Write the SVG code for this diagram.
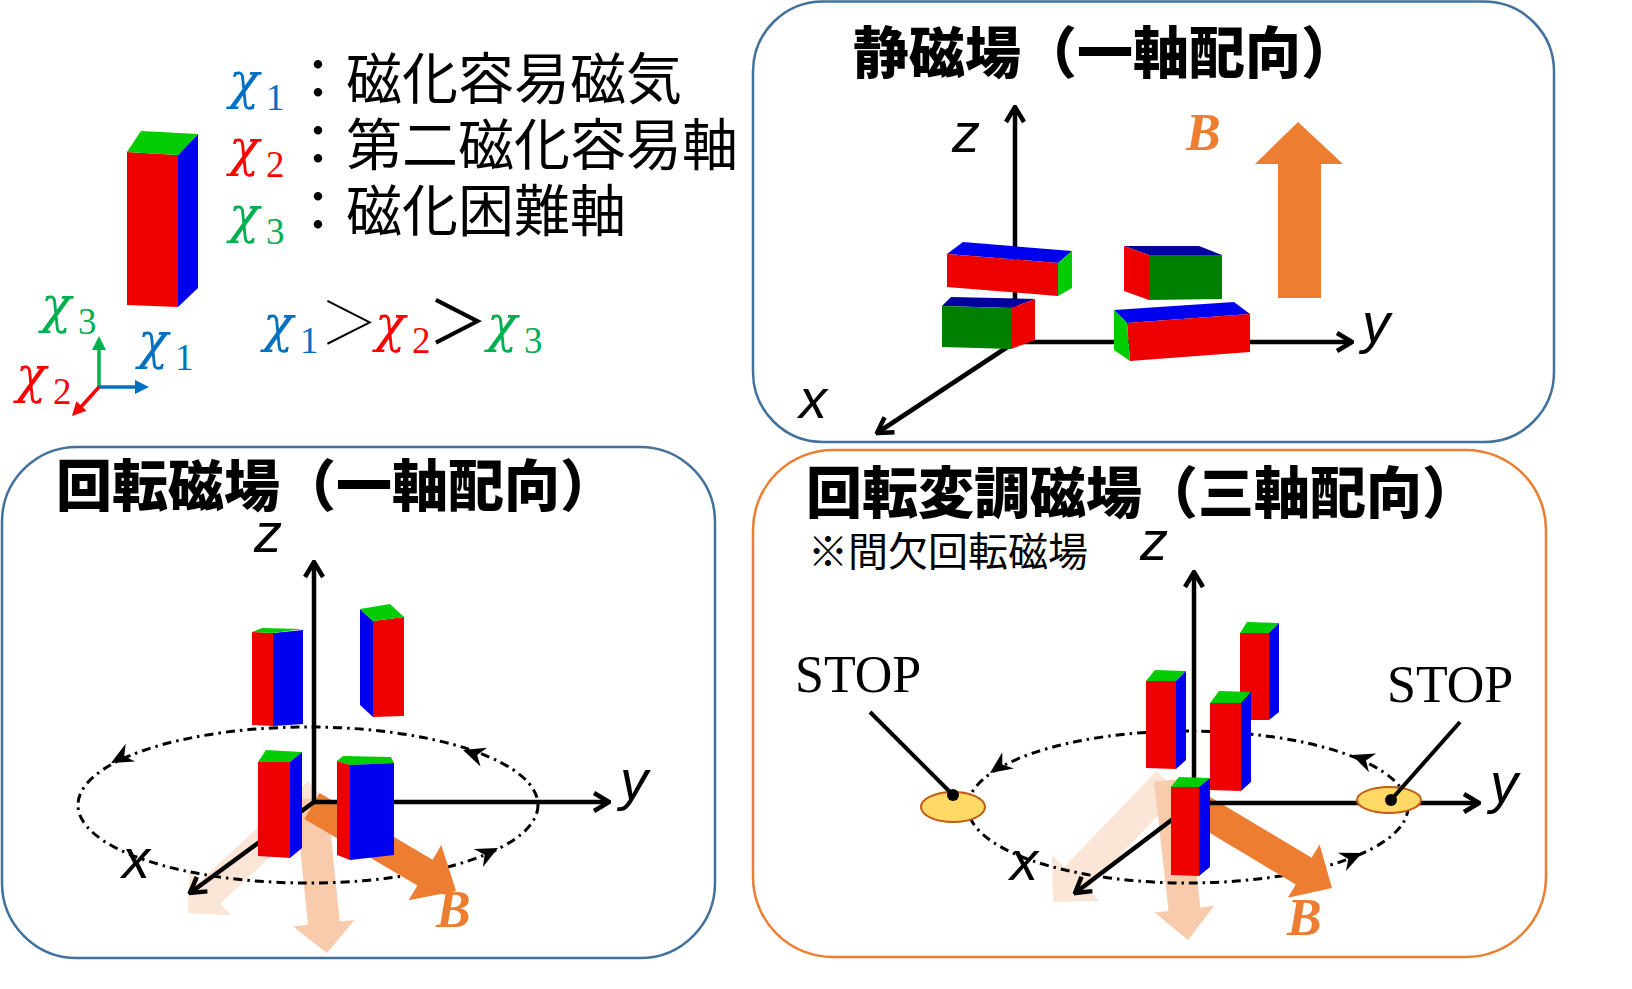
<svg xmlns="http://www.w3.org/2000/svg" width="1632" height="989" viewBox="0 0 1632 989">
<defs>
<style>
.cjk{font-family:"Noto Sans CJK JP","Noto Sans CJK SC",sans-serif;fill:#000}
.leg{font-size:56px}
.ttl{font-size:56px;font-weight:900}
.chi{font-family:"DejaVu Serif","Liberation Serif",serif;font-style:italic;font-size:50px}
.sub{font-family:"Liberation Serif","DejaVu Serif",serif;font-size:37px}
.ax{font-family:"Liberation Sans","DejaVu Sans",sans-serif;font-style:italic;font-size:56px;fill:#000}
.bl{font-family:"Liberation Serif","DejaVu Serif",serif;font-style:italic;font-weight:bold;font-size:52px;fill:#ED7D31}
.stop{font-family:"Liberation Serif","DejaVu Serif",serif;font-size:52px;fill:#000}
.axis{stroke:#000;stroke-width:4.5;fill:none;marker-end:url(#ah)}
.orbit{fill:none;stroke:#000;stroke-width:3;stroke-dasharray:9 5 2.5 5}
.panelB{fill:#fff;stroke:#41719C;stroke-width:2.5}
.panelO{fill:#fff;stroke:#ED7D31;stroke-width:2.5}
.r{fill:#EE0000}.b{fill:#0000EE}.db{fill:#00009E}.g{fill:#00CC00}.dg{fill:#008000}
.sol{fill:#ED7D31}.f1{fill:#FBE5D6}.f2{fill:#F8CBAD}
</style>
<marker id="ah" viewBox="0 0 24 24" refX="22" refY="12" markerWidth="24" markerHeight="24" markerUnits="userSpaceOnUse" orient="auto">
<path d="M7,3 L22,12 L7,21" fill="none" stroke="#000" stroke-width="4.5"/>
</marker>
<path id="stealth" d="M0,0 L-22,-10 L-15,0 L-22,10 Z" fill="#000"/>
</defs>
<rect width="1632" height="989" fill="#fff"/>

<!-- Legend -->
<g id="legend">
<g id="legend-block">
<polygon class="r" points="127,152 178,155 178,307 127,305"/>
<polygon class="b" points="178,155 198,134 198,288 178,307"/>
<polygon class="g" points="127,152 141,131 198,134 178,155"/>
</g>
<text class="chi" x="229" y="98" fill="#0070C0">&#967;</text><text class="sub" x="266" y="110" fill="#0070C0">1</text>
<text class="chi" x="229" y="165" fill="#FF0000">&#967;</text><text class="sub" x="266" y="177" fill="#FF0000">2</text>
<text class="chi" x="229" y="232" fill="#00B050">&#967;</text><text class="sub" x="266" y="244" fill="#00B050">3</text>
<text class="cjk leg" x="290" y="99">：磁化容易磁気</text>
<text class="cjk leg" x="290" y="165">：第二磁化容易軸</text>
<text class="cjk leg" x="290" y="231">：磁化困難軸</text>
<text class="chi" x="263" y="341" fill="#0070C0">&#967;</text><text class="sub" x="300" y="353" fill="#0070C0">1</text>
<text class="cjk" x="349" y="344" font-size="58" font-weight="100" text-anchor="middle">＞</text>
<text class="chi" x="375" y="341" fill="#FF0000">&#967;</text><text class="sub" x="412" y="353" fill="#FF0000">2</text>
<text class="cjk" x="458" y="344" font-size="60" text-anchor="middle">＞</text>
<text class="chi" x="487" y="341" fill="#00B050">&#967;</text><text class="sub" x="524" y="353" fill="#00B050">3</text>
<g id="legend-axes">
<line x1="99" y1="388" x2="99" y2="348" stroke="#00B050" stroke-width="3.5"/>
<polygon points="92,350 99,336 106,350" fill="#00B050"/>
<line x1="98" y1="387" x2="137" y2="387" stroke="#0070C0" stroke-width="3.5"/>
<polygon points="135,380 149,387 135,394" fill="#0070C0"/>
<line x1="99" y1="387" x2="80" y2="408" stroke="#FF0000" stroke-width="3.5"/>
<polygon points="86.6,410.8 72,416 76.4,401.2" fill="#FF0000"/>
</g>
<text class="chi" x="41" y="322" fill="#00B050">&#967;</text><text class="sub" x="78" y="334" fill="#00B050">3</text>
<text class="chi" x="138" y="358" fill="#0070C0">&#967;</text><text class="sub" x="175" y="370" fill="#0070C0">1</text>
<text class="chi" x="16" y="392" fill="#FF0000">&#967;</text><text class="sub" x="53" y="404" fill="#FF0000">2</text>
</g>

<!-- Static field panel -->
<g id="panel-static">
<rect class="panelB" x="753" y="1.5" width="801" height="440.5" rx="70" ry="70"/>
<text class="cjk ttl" x="853" y="73">静磁場（一軸配向）</text>
<polygon class="sol" points="1278,298 1278,164 1255,164 1298,122 1343,164 1321,164 1321,298"/>
<text class="bl" x="1186" y="150">B</text>
<g id="axes-static">
<line class="axis" x1="1015" y1="342" x2="1015" y2="107"/>
<line class="axis" x1="1013" y1="342" x2="1352" y2="342"/>
<line class="axis" x1="1015" y1="342" x2="877" y2="433"/>
</g>
<text class="ax" x="952" y="152">z</text>
<text class="ax" x="1362" y="342">y</text>
<text class="ax" x="799" y="418">x</text>
<g id="s-boxA">
<polygon class="b" points="947,254 963,242 1072,251 1058,263"/>
<polygon class="r" points="947,254 1058,263 1058,296 947,287"/>
<polygon class="g" points="1058,263 1072,251 1072,288 1058,296"/>
</g>
<g id="s-boxB">
<polygon class="db" points="942,306 951,297 1035,299 1011,308"/>
<polygon class="dg" points="942,306 1011,308 1011,349 942,347"/>
<polygon class="r" points="1011,308 1035,299 1035,340 1011,349"/>
</g>
<g id="s-boxC">
<polygon class="db" points="1124,246 1199,246 1222,255 1149,255"/>
<polygon class="r" points="1124,246 1149,255 1149,300 1124,291"/>
<polygon class="dg" points="1149,255 1222,255 1222,299 1149,300"/>
</g>
<g id="s-boxD">
<polygon class="b" points="1114,310 1234,302 1250,314 1127,323"/>
<polygon class="r" points="1127,323 1250,314 1250,352 1130,361"/>
<polygon class="g" points="1114,310 1127,323 1130,361 1114,350"/>
</g>
</g>

<!-- Rotating field panel -->
<g id="panel-rot">
<rect class="panelB" x="2" y="447" width="713" height="511" rx="75" ry="75"/>
<text class="cjk ttl" x="56" y="506">回転磁場（一軸配向）</text>
<polygon class="f1" points="307.8,781 199.8,881.6 188.9,869.9 188,913 231.1,915.3 220.2,903.6 328.2,803"/>
<polygon class="f2" points="295.1,799.6 308,924.8 293.1,926.4 327,953 354.7,920 339.8,921.6 326.9,796.4"/>
<g id="orbit-rot">
<ellipse class="orbit" cx="308" cy="805" rx="230" ry="78"/>
<use href="#stealth" transform="translate(111,763) rotate(152)"/>
<use href="#stealth" transform="translate(463,750) rotate(-161)"/>
<use href="#stealth" transform="translate(498,848) rotate(-27)"/>
</g>
<polygon class="sol" points="304.4,818.9 417.4,885.6 408.7,900.3 456,891 441.3,845.1 432.6,859.8 319.6,793.1"/>
<g id="axes-rot">
<line class="axis" x1="314" y1="804" x2="314" y2="562"/>
<line class="axis" x1="312" y1="802" x2="609" y2="802"/>
<line class="axis" x1="314" y1="802" x2="190" y2="893"/>
</g>
<text class="ax" x="254" y="552">z</text>
<text class="ax" x="620" y="799">y</text>
<text class="ax" x="122" y="878">x</text>
<text class="bl" x="436" y="927">B</text>
<g id="r-block1">
<polygon class="r" points="252,632 273,633 273,726 252,725"/>
<polygon class="b" points="273,633 303,630 303,724 273,726"/>
<polygon class="g" points="252,632 262,628 303,629 273,633"/>
</g>
<g id="r-block2">
<polygon class="b" points="360,609 373,621 373,717 360,705"/>
<polygon class="r" points="373,621 404,617 404,716 373,717"/>
<polygon class="g" points="360,609 373,621 404,617 390,604"/>
</g>
<g id="r-block3">
<polygon class="g" points="258,762 266,750 302,752 290,762"/>
<polygon class="r" points="258,762 290,762 290,858 258,856"/>
<polygon class="b" points="290,762 302,752 302,848 290,858"/>
</g>
<g id="r-block4">
<polygon class="g" points="337,761 343,756 391,757 394,763 350,765"/>
<polygon class="r" points="337,761 350,765 350,860 337,855"/>
<polygon class="b" points="350,765 394,763 394,855 350,860"/>
</g>
</g>

<!-- Modulated rotating field panel -->
<g id="panel-mod">
<rect class="panelO" x="753" y="450" width="793" height="507" rx="80" ry="80"/>
<text class="cjk ttl" x="806" y="513">回転変調磁場（三軸配向）</text>
<text class="cjk" x="808" y="566" font-size="40">※間欠回転磁場</text>
<polygon class="f1" points="1156.5,770.9 1064.2,867.1 1052,855.4 1053,902 1099.6,901 1087.4,889.3 1179.6,793.1"/>
<polygon class="f2" points="1154.1,781.8 1168.6,911 1154.7,912.6 1188,940 1214.3,905.8 1200.4,907.4 1185.9,778.2"/>
<g id="orbit-mod">
<ellipse class="orbit" cx="1188" cy="807" rx="220" ry="76"/>
<use href="#stealth" transform="translate(990,773) rotate(145)"/>
<use href="#stealth" transform="translate(1352,755) rotate(-159)"/>
<use href="#stealth" transform="translate(1362,853) rotate(-24)"/>
</g>
<polygon class="sol" points="1187,819.3 1295.8,884.4 1287.8,897.7 1332,888 1319.6,844.5 1311.7,857.8 1203,792.7"/>
<g id="axes-mod">
<line class="axis" x1="1194" y1="805" x2="1194" y2="572"/>
<line class="axis" x1="1192" y1="803" x2="1479" y2="803"/>
<line class="axis" x1="1194" y1="803" x2="1075" y2="893"/>
</g>
<text class="ax" x="1140" y="560">z</text>
<text class="ax" x="1490" y="802">y</text>
<text class="ax" x="1010" y="880">x</text>
<text class="bl" x="1287" y="935">B</text>
<g id="stop-left">
<ellipse cx="953" cy="807" rx="32" ry="15" fill="#FFD966" stroke="#C55A11" stroke-width="2"/>
<line x1="870" y1="712" x2="953" y2="795" stroke="#000" stroke-width="4"/>
<circle cx="953" cy="795" r="6" fill="#000"/>
<text class="stop" x="795" y="692">STOP</text>
</g>
<g id="stop-right">
<ellipse cx="1389" cy="800" rx="32" ry="13" fill="#FFD966" stroke="#C55A11" stroke-width="2"/>
<line x1="1460" y1="722" x2="1391" y2="800" stroke="#000" stroke-width="4"/>
<circle cx="1391" cy="800" r="6" fill="#000"/>
<text class="stop" x="1387" y="702">STOP</text>
</g>
<g id="m-block1">
<polygon class="g" points="1146,681 1155,670 1186,671 1176,681"/>
<polygon class="r" points="1146,681 1176,681 1176,769 1146,768"/>
<polygon class="b" points="1176,681 1186,671 1186,760 1176,769"/>
</g>
<g id="m-block2">
<polygon class="g" points="1240,633 1247,622 1279,623 1269,633"/>
<polygon class="r" points="1240,633 1269,633 1269,720 1240,720"/>
<polygon class="b" points="1269,633 1279,623 1279,712 1269,720"/>
</g>
<g id="m-block3">
<polygon class="g" points="1210,703 1219,691 1251,692 1241,703"/>
<polygon class="r" points="1210,703 1241,703 1241,791 1210,790"/>
<polygon class="b" points="1241,703 1251,692 1251,782 1241,791"/>
</g>
<g id="m-block4">
<polygon class="g" points="1171,787 1179,777 1210,778 1199,787"/>
<polygon class="r" points="1171,787 1199,787 1199,876 1171,875"/>
<polygon class="b" points="1199,787 1210,778 1210,867 1199,876"/>
</g>
</g>
</svg>
